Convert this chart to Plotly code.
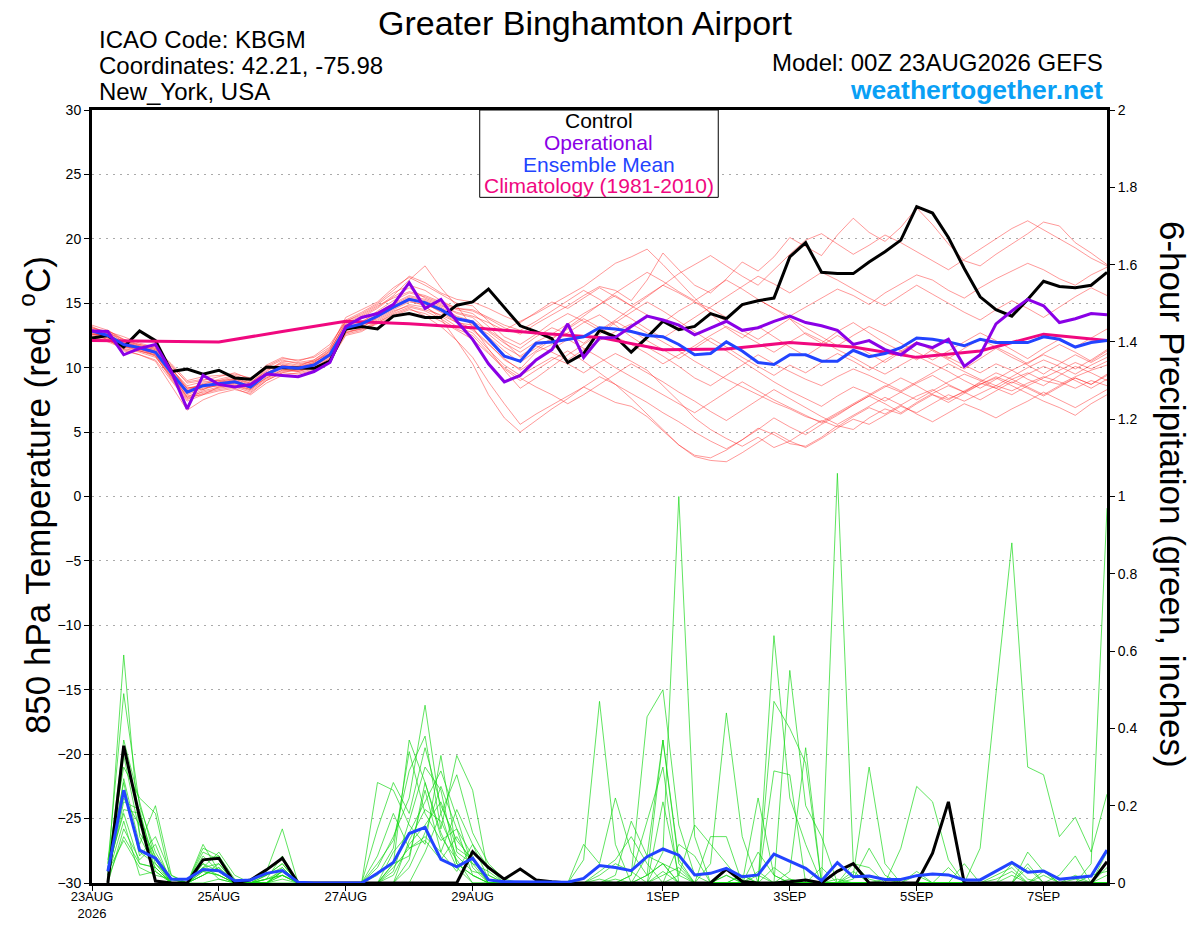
import pandas as pd
import plotly.graph_objects as go

# 6-hourly forecast times, 00Z 23AUG2026 run out to 384 h
times = pd.date_range("2026-08-23 00:00", periods=65, freq="6h")
clim_times = pd.date_range("2026-08-23 00:00", periods=17, freq="D")

tick_dates = ["2026-08-23", "2026-08-25", "2026-08-27", "2026-08-29",
              "2026-09-01", "2026-09-03", "2026-09-05", "2026-09-07"]
tick_text = ["23AUG<br>2026", "25AUG", "27AUG", "29AUG", "1SEP", "3SEP", "5SEP", "7SEP"]

# 850 hPa temperature (C)
control_t = [12.3, 12.5, 11.6, 12.85, 12.1, 9.7, 9.9, 9.5, 9.8, 9.2, 9.1, 10.05, 10.0, 9.95, 9.95, 10.5,
             13.0, 13.2, 13.0, 14.0, 14.2, 13.9, 13.9, 14.85, 15.1, 16.1, 14.7,
             13.25, 12.8, 12.25, 10.4, 11.1, 12.9, 12.4, 11.2, 12.35, 13.6, 12.95, 13.2, 14.2, 13.8, 14.9, 15.2, 15.4, 18.6,
             19.7, 17.4, 17.3, 17.3, 18.2, 19.0, 19.9, 22.5, 22.0, 20.1, 17.7, 15.5, 14.5, 14.0, 15.3, 16.7, 16.3, 16.2, 16.4, 17.4]
oper_t = [12.85, 12.8, 11.0, 11.5, 11.8, 9.7, 6.8, 9.4, 8.7, 8.5, 8.7, 9.5, 9.4, 9.3, 9.7, 10.4,
          13.2, 13.9, 14.2, 14.9, 16.6, 14.6, 15.3, 13.6, 12.2, 10.3, 8.9,
          9.4, 10.6, 11.4, 13.4, 10.8, 12.3, 12.35, 13.2, 14.0, 13.7, 13.3, 12.55, 13.1, 13.6, 12.9, 13.1, 13.6, 14.0,
          13.5, 13.25, 12.9, 11.8, 12.1, 11.4, 11.0, 11.9, 11.55, 12.2, 10.1, 11.0, 13.4, 14.4, 15.3, 14.8, 13.5, 13.8, 14.2, 14.1]
mean_t = [12.85, 12.5, 11.8, 11.55, 11.2, 9.6, 8.1, 8.6, 8.75, 8.9, 8.5, 9.5, 10.05, 9.95, 10.2, 11.0,
          13.1, 13.4, 14.0, 14.7, 15.3, 15.05, 14.5, 13.8, 13.55, 12.2, 10.9,
          10.5, 11.9, 12.0, 12.2, 12.4, 13.1, 13.0, 12.8, 12.5, 12.4, 11.8, 11.0, 11.1, 12.0, 11.3, 10.4, 10.25, 11.0,
          11.0, 10.5, 10.5, 11.35, 10.85, 11.1, 11.55, 12.3, 12.2, 12.0, 11.7, 12.2, 11.95, 11.95, 11.95, 12.4, 12.2, 11.6, 11.95, 12.1]
clim_t = [12.1, 12.05, 12.0, 12.8, 13.6, 13.4, 13.1, 12.7, 12.35, 11.4, 11.45, 11.95, 11.6, 10.8, 11.3, 12.6, 12.1]

members_t = [
    [13.1, 12.8, 12.4, 11.9, 11.6, 10.2, 8.8, 9.0, 9.3, 9.6, 9.1, 10.2, 10.8, 10.5, 10.9, 11.8,
     13.6, 14.2, 14.9, 15.8, 16.4, 16.0, 15.2, 14.6, 14.4, 13.8, 13.1,
     12.6, 13.4, 14.1, 14.8, 15.6, 16.3, 16.0, 15.2, 16.8, 18.9, 17.6, 16.4, 15.8, 16.9, 18.2, 17.5, 18.6, 20.1,
     19.4, 18.7, 20.3, 21.6, 20.5, 19.8, 20.9, 22.4, 21.1, 19.6, 18.3, 17.9, 18.8, 19.6, 20.4, 21.3, 21.0, 19.7, 18.9, 18.0],
    [12.6, 12.2, 11.3, 11.0, 10.6, 9.0, 7.4, 7.9, 8.2, 8.4, 7.9, 8.8, 9.4, 9.6, 9.9, 10.5,
     12.5, 12.8, 13.5, 14.1, 14.6, 14.0, 13.2, 12.1, 10.8, 8.9, 7.2,
     5.6, 6.4, 7.1, 7.8, 8.5, 7.9, 7.3, 7.0, 6.2, 5.1, 4.0, 3.2, 3.0, 3.6, 4.4, 5.3, 4.8, 4.1,
     3.9, 4.6, 5.5, 5.2, 6.1, 6.8, 6.4, 7.2, 7.9, 7.5, 8.2, 8.8, 8.4, 9.1, 9.6, 9.0, 8.7, 9.3, 9.8, 10.2],
    [12.8, 12.9, 12.1, 11.6, 11.3, 9.9, 8.5, 8.3, 8.9, 9.2, 8.8, 9.9, 10.3, 10.1, 10.6, 11.4,
     13.4, 13.9, 14.6, 15.5, 16.2, 15.4, 14.9, 14.2, 13.9, 12.8, 11.9,
     11.2, 12.0, 12.6, 13.4, 14.2, 14.9, 15.6, 14.8, 14.1, 13.5, 14.4, 15.1, 14.6, 13.9, 14.8, 15.3, 14.6, 14.0,
     14.7, 15.4, 16.1, 15.6, 14.9, 15.8, 16.5, 17.2, 16.8, 16.0, 15.4, 16.2, 16.9, 17.5, 18.1, 17.6, 16.9, 16.4, 17.2, 17.8],
    [12.4, 12.0, 11.5, 11.2, 10.8, 9.3, 7.8, 8.1, 8.4, 8.6, 8.2, 9.1, 9.7, 9.8, 10.0, 10.7,
     12.8, 13.0, 13.6, 14.3, 14.9, 14.7, 14.0, 13.2, 12.7, 11.4, 10.2,
     9.4, 10.1, 10.8, 10.3, 9.6, 10.4, 11.1, 10.5, 9.8, 8.6, 7.4, 6.1, 5.2, 4.5, 3.9, 4.6, 3.8, 4.3,
     5.1, 5.9, 5.4, 6.2, 6.9, 6.4, 7.1, 7.8, 8.3, 7.6, 8.1, 8.7, 9.2, 8.6, 8.0, 7.4, 6.9, 6.3, 7.2, 7.9],
    [13.2, 12.6, 11.9, 11.7, 11.4, 10.1, 8.9, 9.1, 9.0, 9.3, 8.9, 9.7, 10.5, 10.4, 10.6, 11.5,
     13.9, 14.5, 15.1, 16.2, 17.0, 16.4, 15.7, 15.0, 14.8, 13.6, 12.4,
     11.8, 12.6, 13.5, 14.2, 13.6, 12.9, 13.7, 14.6, 15.5, 16.4, 15.8, 15.1, 14.3, 13.6, 12.9, 12.2, 13.0, 13.8,
     12.6, 11.9, 12.8, 13.5, 12.7, 11.9, 11.3, 10.6, 11.4, 10.8, 10.2, 9.6, 10.3, 9.8, 9.1, 8.6, 9.4, 10.1, 9.6, 9.0],
    [12.7, 12.3, 11.6, 11.3, 11.0, 9.4, 7.9, 8.4, 8.6, 8.7, 8.3, 9.3, 9.9, 9.7, 10.1, 10.8,
     12.9, 13.3, 13.8, 14.5, 15.1, 14.9, 14.4, 13.6, 13.0, 11.9, 10.6,
     9.9, 11.2, 11.8, 12.7, 13.5, 14.1, 13.3, 12.4, 11.6, 10.9, 10.1, 9.2, 8.6, 9.4, 10.2, 11.0, 10.3, 9.7,
     9.1, 8.6, 9.3, 9.9, 9.4, 8.8, 8.2, 8.9, 9.6, 10.3, 9.7, 9.1, 8.6, 9.3, 10.0, 10.6, 10.1, 9.5, 10.2, 10.8],
    [13.0, 12.4, 11.4, 11.0, 10.5, 8.6, 6.7, 7.5, 8.0, 8.3, 8.0, 9.0, 9.6, 9.9, 10.3, 11.1,
     13.2, 13.6, 14.2, 14.9, 15.5, 15.2, 14.7, 14.0, 13.6, 12.9, 12.1,
     11.5, 12.4, 13.1, 12.6, 11.9, 12.8, 13.6, 12.9, 12.1, 11.4, 10.7, 11.5, 12.3, 11.6, 10.8, 10.1, 9.4, 10.2,
     9.6, 10.4, 11.1, 10.5, 9.8, 10.6, 11.3, 12.0, 11.4, 10.7, 11.5, 12.2, 11.6, 11.0, 10.3, 11.1, 11.8, 11.2, 10.5, 11.3],
    [12.5, 12.7, 12.0, 11.8, 11.5, 10.0, 8.3, 8.7, 9.1, 9.4, 9.0, 10.0, 10.6, 10.3, 10.5, 11.3,
     13.5, 14.0, 14.7, 15.6, 16.8, 17.9, 16.2, 14.8, 13.1, 11.5, 9.8,
     8.4, 9.2, 10.1, 11.0, 11.8, 12.6, 13.5, 14.3, 15.1, 14.4, 13.6, 12.8, 12.0, 11.3, 10.5, 9.7, 8.9, 8.2,
     7.6, 7.0, 7.8, 8.5, 8.0, 7.4, 8.1, 8.8, 9.4, 8.7, 8.1, 8.9, 9.6, 9.1, 8.5, 7.9, 8.6, 9.2, 8.7, 9.4],
    [12.9, 12.1, 11.7, 11.4, 11.1, 9.5, 7.7, 7.9, 8.5, 8.8, 8.4, 9.2, 9.8, 10.0, 10.2, 10.9,
     12.7, 13.1, 13.9, 14.6, 15.2, 14.8, 13.8, 12.1, 10.3, 7.9, 6.1,
     5.0, 5.9, 6.8, 7.6, 8.5, 9.3, 8.7, 8.0, 7.3, 6.5, 5.8, 5.0, 4.3, 3.7, 4.4, 5.2, 6.1, 5.4,
     4.8, 5.6, 6.3, 7.1, 7.8, 7.2, 6.5, 7.3, 8.0, 8.6, 8.1, 7.5, 8.2, 8.9, 8.4, 7.8, 8.5, 9.2, 8.7, 9.5],
    [12.6, 12.5, 11.8, 11.4, 11.2, 9.7, 8.2, 8.8, 8.9, 9.0, 8.6, 9.6, 10.2, 10.0, 10.4, 11.2,
     13.3, 13.8, 14.3, 15.0, 15.6, 15.3, 14.8, 14.3, 14.0, 13.5, 12.9,
     13.6, 14.2, 14.9, 15.6, 16.3, 17.2, 18.1, 18.6, 19.2, 18.0, 16.7, 15.4, 14.2, 13.1, 12.3, 13.2, 12.4, 11.6,
     10.9, 11.7, 12.5, 11.8, 11.1, 10.4, 11.2, 12.0, 11.3, 10.6, 9.9, 10.7, 11.5, 10.8, 10.2, 9.5, 10.3, 11.0, 10.4, 11.1],
    [12.3, 12.1, 11.6, 11.5, 10.9, 9.2, 7.6, 8.0, 8.3, 8.5, 8.1, 9.0, 9.6, 9.5, 9.8, 10.6,
     12.6, 12.9, 13.4, 14.0, 14.5, 14.2, 13.6, 12.9, 12.2, 11.1, 9.9,
     9.0, 9.8, 10.6, 11.3, 10.5, 9.6, 8.7, 7.6, 6.4, 5.2, 4.0, 3.1, 2.8, 2.7, 3.4, 4.2, 5.0, 4.3,
     3.8, 4.5, 5.3, 6.0, 5.6, 6.3, 7.0, 6.5, 7.2, 7.9, 7.4, 8.0, 8.6, 8.2, 8.8, 9.3, 8.9, 8.4, 9.0, 8.6],
    [13.3, 12.9, 12.2, 11.8, 11.5, 10.3, 9.0, 9.3, 9.4, 9.5, 9.2, 10.1, 10.7, 10.6, 10.8, 11.6,
     13.7, 14.3, 15.0, 16.0, 17.1, 16.6, 15.8, 15.3, 15.1, 14.6, 14.0,
     13.5, 14.3, 15.1, 14.6, 15.4, 16.2, 15.5, 14.8, 15.6, 16.4, 17.3, 18.0, 18.7, 17.9, 17.1, 16.4, 17.6, 18.8,
     19.9, 20.4, 19.6, 18.8, 19.5, 20.3, 19.7, 19.0, 18.3, 17.6, 18.4, 19.2, 20.0, 20.8, 21.4, 20.7, 20.0, 19.3, 18.5, 17.9],
    [12.7, 12.6, 11.9, 11.6, 11.3, 9.8, 8.4, 8.6, 8.8, 9.1, 8.7, 9.8, 10.4, 10.2, 10.5, 11.1,
     13.0, 13.5, 14.4, 15.2, 15.8, 15.5, 15.0, 14.5, 14.2, 13.2, 12.0,
     10.8, 11.5, 12.3, 13.0, 13.8, 13.1, 12.4, 11.8, 11.1, 10.3, 11.0, 11.7, 12.5, 13.2, 12.6, 11.9, 11.2, 12.0,
     12.7, 12.1, 11.4, 10.8, 10.1, 9.5, 10.2, 10.9, 10.3, 9.7, 9.0, 8.4, 9.1, 9.8, 10.4, 11.0, 10.5, 9.9, 10.6, 11.4],
    [13.1, 12.7, 12.2, 11.7, 11.4, 9.9, 8.6, 8.9, 9.0, 9.1, 8.8, 9.6, 10.1, 9.9, 10.3, 10.9,
     12.9, 13.2, 13.7, 14.4, 14.8, 14.5, 14.1, 13.5, 13.3, 12.6, 11.6,
     10.9, 11.7, 11.2, 10.6, 11.4, 12.1, 12.8, 13.4, 12.7, 12.0, 11.3, 10.5, 9.8, 9.1, 8.5, 7.9, 7.3, 6.8,
     6.2, 5.8, 6.5, 7.2, 7.9, 8.6, 8.1, 7.5, 8.2, 8.9, 9.5, 9.0, 8.4, 7.9, 8.6, 9.2, 9.8, 10.4, 9.9, 10.5],
    [12.8, 12.3, 11.7, 11.6, 11.2, 9.6, 8.0, 8.5, 8.6, 8.9, 8.5, 9.4, 10.0, 10.1, 10.4, 11.3,
     13.6, 14.1, 14.8, 15.4, 15.9, 15.6, 15.1, 14.6, 14.5, 13.9, 13.3,
     12.9, 13.6, 14.4, 15.2, 16.0, 15.3, 14.5, 13.8, 13.0, 12.3, 13.1, 13.9, 14.7, 15.5, 16.3, 17.1, 16.5, 15.8,
     16.6, 17.4, 16.8, 16.1, 15.4, 14.8, 15.6, 16.4, 15.7, 15.0, 14.3, 13.7, 14.5, 15.2, 14.6, 13.9, 14.7, 15.5, 16.2, 15.6],
    [12.4, 12.2, 11.4, 11.3, 10.9, 9.1, 7.5, 8.2, 8.5, 8.6, 8.3, 9.2, 9.8, 9.7, 10.0, 10.7,
     12.7, 13.0, 13.5, 14.2, 14.7, 14.4, 13.8, 13.0, 12.5, 11.2, 10.0,
     9.2, 8.5, 7.9, 7.2, 7.9, 8.7, 9.5, 10.3, 9.6, 8.9, 8.1, 7.4, 6.6, 5.9, 6.7, 7.5, 8.3, 7.6,
     6.9, 6.2, 5.6, 6.3, 7.0, 7.7, 7.1, 6.4, 5.8, 6.5, 7.2, 6.7, 6.1, 6.8, 7.4, 8.1, 7.5, 6.9, 7.6, 8.3],
    [13.0, 12.8, 12.0, 11.5, 11.1, 9.7, 8.4, 8.7, 8.7, 8.8, 8.4, 9.5, 10.2, 10.0, 10.3, 11.0,
     13.1, 13.5, 14.1, 14.8, 15.4, 15.1, 14.6, 13.9, 13.4, 12.4, 11.3,
     10.4, 11.3, 12.2, 13.1, 14.0, 14.9, 15.8, 16.6, 17.4, 16.7, 15.9, 15.2, 16.0, 16.8, 16.1, 15.3, 14.6, 13.8,
     13.1, 12.4, 11.7, 12.5, 13.2, 12.6, 11.9, 11.2, 10.6, 11.3, 12.0, 12.7, 12.1, 11.4, 10.7, 11.5, 12.2, 11.6, 12.3, 13.0],
    [12.6, 12.4, 11.7, 11.3, 11.0, 9.3, 7.7, 8.3, 8.7, 9.0, 8.6, 9.4, 10.0, 9.8, 10.2, 10.9,
     13.0, 13.4, 14.0, 14.7, 15.3, 15.0, 14.3, 13.5, 12.9, 11.8, 10.7,
     9.8, 10.6, 11.4, 12.2, 11.5, 10.8, 10.0, 9.3, 8.6, 7.9, 7.2, 6.5, 7.3, 8.1, 8.9, 8.2, 7.5, 6.9,
     6.3, 5.7, 6.4, 7.1, 7.8, 8.5, 9.2, 8.6, 7.9, 7.3, 8.0, 8.7, 9.3, 8.8, 9.5, 10.1, 9.6, 9.0, 8.4, 9.1],
]

# 6-hour precipitation (inches), valid 06Z 23AUG onward
control_p = [0.0, 0.355, 0.17, 0.005, 0.0, 0.0, 0.06, 0.064, 0.0, 0.008, 0.034, 0.064, 0.0, 0.0, 0.0, 0.0,
             0.0, 0.0, 0.0, 0.0, 0.0, 0.0, 0.0, 0.081, 0.04, 0.01, 0.036, 0.008, 0.003, 0.0, 0.0, 0.0,
             0.0, 0.0, 0.0, 0.0, 0.0, 0.0, 0.0, 0.036, 0.004, 0.0, 0.0, 0.003, 0.008, 0.0, 0.03, 0.05,
             0.0, 0.0, 0.0, 0.0, 0.077, 0.21, 0.0, 0.0, 0.0, 0.0, 0.0, 0.0, 0.0, 0.0, 0.0, 0.055]
mean_p = [0.03, 0.24, 0.085, 0.064, 0.01, 0.01, 0.035, 0.032, 0.006, 0.008, 0.025, 0.032, 0.002, 0.0, 0.0, 0.0,
          0.0, 0.025, 0.053, 0.128, 0.144, 0.061, 0.042, 0.064, 0.008, 0.003, 0.003, 0.003, 0.002, 0.002, 0.012, 0.045,
          0.04, 0.032, 0.068, 0.088, 0.072, 0.021, 0.025, 0.038, 0.016, 0.021, 0.075, 0.057, 0.038, 0.006, 0.053, 0.016,
          0.018, 0.009, 0.009, 0.019, 0.023, 0.021, 0.008, 0.008, 0.03, 0.053, 0.028, 0.031, 0.01, 0.014, 0.018, 0.085]

members_p = [
    [0.02, 0.59, 0.12, 0.04, 0.0, 0.0, 0.05, 0.03, 0.0, 0.0, 0.01, 0.02, 0.0, 0.0, 0.0, 0.0,
     0.0, 0.04, 0.12, 0.22, 0.46, 0.18, 0.05, 0.02, 0.0, 0.0, 0.0, 0.0, 0.0, 0.0, 0.0, 0.02,
     0.05, 0.03, 0.0, 0.08, 1.0, 0.12, 0.0, 0.02, 0.0, 0.0, 0.04, 0.01, 0.0, 0.0, 0.0, 0.0,
     0.0, 0.0, 0.0, 0.02, 0.0, 0.0, 0.0, 0.0, 0.01, 0.03, 0.0, 0.0, 0.0, 0.01, 0.0, 0.02],
    [0.05, 0.49, 0.2, 0.08, 0.01, 0.0, 0.08, 0.06, 0.0, 0.0, 0.02, 0.05, 0.0, 0.0, 0.0, 0.0,
     0.0, 0.0, 0.05, 0.37, 0.26, 0.12, 0.06, 0.0, 0.0, 0.0, 0.0, 0.0, 0.0, 0.0, 0.06, 0.47,
     0.1, 0.0, 0.02, 0.05, 0.03, 0.0, 0.0, 0.0, 0.02, 0.0, 0.0, 0.0, 0.0, 0.0, 1.06, 0.05,
     0.01, 0.0, 0.0, 0.0, 0.0, 0.0, 0.0, 0.0, 0.0, 0.0, 0.0, 0.0, 0.0, 0.0, 0.0, 0.0],
    [0.03, 0.37, 0.21, 0.06, 0.0, 0.0, 0.04, 0.02, 0.0, 0.0, 0.0, 0.03, 0.0, 0.0, 0.0, 0.0,
     0.0, 0.26, 0.24, 0.15, 0.1, 0.33, 0.08, 0.05, 0.03, 0.0, 0.0, 0.0, 0.0, 0.0, 0.0, 0.0,
     0.0, 0.02, 0.43, 0.5, 0.15, 0.02, 0.0, 0.0, 0.0, 0.0, 0.0, 0.03, 0.35, 0.0, 0.0, 0.02,
     0.3, 0.05, 0.0, 0.0, 0.0, 0.0, 0.0, 0.0, 0.02, 0.04, 0.0, 0.0, 0.0, 0.0, 0.0, 0.0],
    [0.0, 0.27, 0.1, 0.2, 0.02, 0.0, 0.09, 0.07, 0.01, 0.0, 0.03, 0.14, 0.0, 0.0, 0.0, 0.0,
     0.0, 0.14, 0.26, 0.18, 0.35, 0.2, 0.11, 0.06, 0.01, 0.0, 0.0, 0.0, 0.0, 0.0, 0.1, 0.05,
     0.22, 0.08, 0.02, 0.37, 0.06, 0.0, 0.0, 0.0, 0.0, 0.0, 0.64, 0.22, 0.1, 0.0, 0.0, 0.0,
     0.0, 0.0, 0.09, 0.25, 0.21, 0.06, 0.0, 0.09, 0.49, 0.88, 0.3, 0.28, 0.12, 0.17, 0.08, 0.23],
    [0.06, 0.3, 0.22, 0.18, 0.0, 0.0, 0.02, 0.05, 0.0, 0.0, 0.0, 0.01, 0.0, 0.0, 0.0, 0.0,
     0.0, 0.05, 0.11, 0.29, 0.38, 0.14, 0.33, 0.24, 0.02, 0.0, 0.0, 0.0, 0.0, 0.0, 0.0, 0.0,
     0.0, 0.0, 0.0, 0.03, 0.0, 0.0, 0.05, 0.44, 0.12, 0.0, 0.47, 0.4, 0.31, 0.0, 0.01, 0.0,
     0.0, 0.0, 0.0, 0.0, 0.0, 0.0, 0.0, 0.0, 0.0, 0.0, 0.0, 0.02, 0.0, 0.0, 0.05, 0.97],
    [0.01, 0.24, 0.08, 0.05, 0.01, 0.0, 0.03, 0.02, 0.0, 0.0, 0.01, 0.03, 0.0, 0.0, 0.0, 0.0,
     0.0, 0.0, 0.08, 0.13, 0.21, 0.29, 0.17, 0.04, 0.0, 0.0, 0.0, 0.0, 0.0, 0.0, 0.0, 0.0,
     0.02, 0.16, 0.07, 0.37, 0.05, 0.0, 0.0, 0.02, 0.0, 0.0, 0.29, 0.28, 0.0, 0.0, 0.0, 0.03,
     0.0, 0.0, 0.0, 0.0, 0.0, 0.0, 0.0, 0.0, 0.0, 0.0, 0.05, 0.0, 0.0, 0.02, 0.0, 0.0],
    [0.04, 0.18, 0.05, 0.04, 0.0, 0.0, 0.1, 0.03, 0.0, 0.01, 0.02, 0.04, 0.0, 0.0, 0.0, 0.0,
     0.0, 0.0, 0.03, 0.16, 0.3, 0.24, 0.05, 0.02, 0.0, 0.0, 0.0, 0.0, 0.0, 0.0, 0.0, 0.03,
     0.06, 0.12, 0.05, 0.0, 0.0, 0.0, 0.0, 0.0, 0.0, 0.03, 0.0, 0.55, 0.2, 0.12, 0.0, 0.0,
     0.0, 0.0, 0.0, 0.0, 0.0, 0.04, 0.0, 0.0, 0.0, 0.0, 0.0, 0.03, 0.0, 0.0, 0.0, 0.0],
    [0.0, 0.14, 0.06, 0.1, 0.0, 0.0, 0.04, 0.08, 0.02, 0.0, 0.0, 0.02, 0.0, 0.0, 0.0, 0.0,
     0.0, 0.07, 0.18, 0.09, 0.12, 0.08, 0.19, 0.1, 0.01, 0.0, 0.0, 0.0, 0.0, 0.0, 0.0, 0.0,
     0.0, 0.0, 0.07, 0.05, 0.0, 0.0, 0.12, 0.12, 0.0, 0.0, 0.0, 0.0, 0.0, 0.04, 0.0, 0.0,
     0.0, 0.0, 0.0, 0.0, 0.0, 0.0, 0.0, 0.0, 0.0, 0.0, 0.0, 0.0, 0.02, 0.07, 0.0, 0.0],
    [0.02, 0.21, 0.19, 0.03, 0.0, 0.0, 0.02, 0.04, 0.0, 0.0, 0.02, 0.05, 0.0, 0.0, 0.0, 0.0,
     0.0, 0.0, 0.0, 0.06, 0.26, 0.13, 0.04, 0.0, 0.0, 0.0, 0.0, 0.0, 0.0, 0.0, 0.0, 0.01,
     0.0, 0.02, 0.16, 0.3, 0.0, 0.0, 0.0, 0.0, 0.0, 0.08, 0.02, 0.0, 0.0, 0.0, 0.0, 0.01,
     0.09, 0.02, 0.0, 0.0, 0.0, 0.0, 0.05, 0.0, 0.0, 0.0, 0.08, 0.03, 0.0, 0.0, 0.0, 0.04],
    [0.03, 0.11, 0.04, 0.02, 0.01, 0.0, 0.0, 0.01, 0.0, 0.0, 0.0, 0.0, 0.0, 0.0, 0.0, 0.0,
     0.0, 0.0, 0.02, 0.1, 0.15, 0.21, 0.09, 0.06, 0.0, 0.0, 0.0, 0.0, 0.0, 0.0, 0.0, 0.0,
     0.0, 0.0, 0.0, 0.0, 0.02, 0.15, 0.1, 0.05, 0.0, 0.0, 0.0, 0.0, 0.0, 0.0, 0.0, 0.0,
     0.0, 0.01, 0.0, 0.0, 0.0, 0.0, 0.0, 0.0, 0.0, 0.02, 0.0, 0.0, 0.0, 0.0, 0.0, 0.0],
    [0.05, 0.26, 0.07, 0.12, 0.02, 0.0, 0.06, 0.07, 0.0, 0.0, 0.01, 0.07, 0.0, 0.0, 0.0, 0.0,
     0.0, 0.02, 0.09, 0.34, 0.18, 0.11, 0.14, 0.02, 0.0, 0.0, 0.0, 0.0, 0.0, 0.0, 0.0, 0.0,
     0.01, 0.0, 0.0, 0.21, 0.02, 0.0, 0.0, 0.0, 0.0, 0.22, 0.02, 0.0, 0.0, 0.0, 0.0, 0.0,
     0.0, 0.0, 0.0, 0.03, 0.0, 0.0, 0.0, 0.0, 0.0, 0.0, 0.0, 0.0, 0.0, 0.0, 0.0, 0.0],
    [0.0, 0.33, 0.13, 0.06, 0.0, 0.0, 0.03, 0.02, 0.0, 0.0, 0.0, 0.02, 0.0, 0.0, 0.0, 0.0,
     0.0, 0.0, 0.0, 0.04, 0.13, 0.25, 0.14, 0.07, 0.0, 0.0, 0.0, 0.0, 0.0, 0.0, 0.0, 0.0,
     0.0, 0.0, 0.0, 0.0, 0.0, 0.0, 0.0, 0.0, 0.0, 0.0, 0.0, 0.0, 0.0, 0.0, 0.0, 0.0,
     0.0, 0.0, 0.0, 0.0, 0.0, 0.0, 0.0, 0.0, 0.0, 0.0, 0.0, 0.0, 0.0, 0.0, 0.0, 0.08],
    [0.02, 0.16, 0.02, 0.03, 0.0, 0.0, 0.05, 0.01, 0.0, 0.0, 0.0, 0.03, 0.0, 0.0, 0.0, 0.0,
     0.0, 0.0, 0.05, 0.07, 0.24, 0.08, 0.03, 0.1, 0.04, 0.0, 0.0, 0.0, 0.0, 0.0, 0.0, 0.0,
     0.0, 0.0, 0.0, 0.02, 0.04, 0.0, 0.0, 0.0, 0.0, 0.0, 0.0, 0.0, 0.0, 0.0, 0.0, 0.0,
     0.0, 0.0, 0.0, 0.0, 0.0, 0.0, 0.0, 0.0, 0.0, 0.05, 0.01, 0.0, 0.0, 0.0, 0.02, 0.03],
    [0.04, 0.22, 0.15, 0.07, 0.01, 0.0, 0.04, 0.05, 0.0, 0.0, 0.01, 0.02, 0.0, 0.0, 0.0, 0.0,
     0.0, 0.0, 0.0, 0.11, 0.19, 0.16, 0.07, 0.03, 0.02, 0.0, 0.0, 0.0, 0.0, 0.0, 0.0, 0.0,
     0.0, 0.0, 0.0, 0.0, 0.1, 0.07, 0.0, 0.0, 0.02, 0.0, 0.0, 0.0, 0.0, 0.0, 0.0, 0.05,
     0.04, 0.0, 0.0, 0.0, 0.0, 0.0, 0.0, 0.0, 0.0, 0.0, 0.04, 0.0, 0.0, 0.0, 0.0, 0.0],
    [0.01, 0.12, 0.05, 0.04, 0.0, 0.0, 0.02, 0.04, 0.0, 0.0, 0.0, 0.04, 0.0, 0.0, 0.0, 0.0,
     0.0, 0.0, 0.04, 0.09, 0.11, 0.06, 0.12, 0.05, 0.0, 0.0, 0.0, 0.0, 0.0, 0.0, 0.0, 0.0,
     0.0, 0.0, 0.02, 0.05, 0.0, 0.0, 0.0, 0.0, 0.0, 0.0, 0.0, 0.01, 0.0, 0.0, 0.0, 0.0,
     0.0, 0.0, 0.0, 0.0, 0.0, 0.0, 0.0, 0.0, 0.0, 0.0, 0.0, 0.0, 0.0, 0.0, 0.0, 0.0],
    [0.03, 0.19, 0.18, 0.05, 0.0, 0.0, 0.07, 0.03, 0.0, 0.0, 0.0, 0.03, 0.0, 0.0, 0.0, 0.0,
     0.0, 0.0, 0.0, 0.0, 0.08, 0.18, 0.28, 0.13, 0.05, 0.01, 0.0, 0.0, 0.0, 0.0, 0.0, 0.0,
     0.0, 0.0, 0.0, 0.0, 0.0, 0.0, 0.0, 0.0, 0.0, 0.02, 0.0, 0.0, 0.0, 0.0, 0.0, 0.0,
     0.0, 0.0, 0.0, 0.0, 0.0, 0.0, 0.0, 0.0, 0.0, 0.0, 0.0, 0.0, 0.0, 0.0, 0.0, 0.0],
]

FONT = "Liberation Sans, Arial, sans-serif"

fig = go.Figure()

for m in members_t:
    fig.add_trace(go.Scatter(x=times, y=m, mode="lines",
                             line=dict(color="rgba(255,40,40,0.6)", width=0.8), hoverinfo="skip"))
for m in members_p:
    fig.add_trace(go.Scatter(x=times[1:], y=m, mode="lines", yaxis="y2",
                             line=dict(color="rgba(20,215,20,0.85)", width=0.8), hoverinfo="skip"))

fig.add_trace(go.Scatter(x=times[1:], y=control_p, mode="lines", yaxis="y2",
                         line=dict(color="black", width=3)))
fig.add_trace(go.Scatter(x=times[1:], y=mean_p, mode="lines", yaxis="y2",
                         line=dict(color="#2244ff", width=3)))
fig.add_trace(go.Scatter(x=times, y=control_t, mode="lines", line=dict(color="black", width=3)))
fig.add_trace(go.Scatter(x=clim_times, y=clim_t, mode="lines", line=dict(color="#f0087f", width=3)))
fig.add_trace(go.Scatter(x=times, y=mean_t, mode="lines", line=dict(color="#2244ff", width=3)))
fig.add_trace(go.Scatter(x=times, y=oper_t, mode="lines", line=dict(color="#8a00e6", width=3)))

# the page body adds an 8px offset, so the figure is a little smaller than the window
fig.update_layout(
    width=1184, height=911,
    margin=dict(l=84, r=85, t=102, b=36, autoexpand=False),
    paper_bgcolor="white", plot_bgcolor="white",
    showlegend=False,
    font=dict(family=FONT, color="black"),
    xaxis=dict(
        type="date", range=[times[0], times[-1]], automargin=False,
        tickmode="array", tickvals=tick_dates, ticktext=tick_text,
        ticks="outside", ticklen=5, tickwidth=1, tickcolor="black",
        tickfont=dict(size=13), ticklabelstandoff=-6,
        showgrid=False, zeroline=False,
        showline=True, linecolor="black", linewidth=3, mirror=True,
    ),
    yaxis=dict(
        range=[-30, 30], tickmode="linear", tick0=-30, dtick=5, automargin=False,
        ticks="outside", ticklen=5, tickcolor="black",
        tickfont=dict(size=14),
        showgrid=True, gridcolor="#aaaaaa", gridwidth=1, griddash="2px,5px",
        zeroline=False, showline=True, linecolor="black", linewidth=3,
    ),
    yaxis2=dict(
        range=[0, 2], overlaying="y", side="right", automargin=False,
        tickmode="linear", tick0=0, dtick=0.2,
        ticks="outside", ticklen=5, tickcolor="black",
        tickfont=dict(size=14),
        showgrid=False, zeroline=False,
        showline=True, linecolor="black", linewidth=3,
    ),
)

# legend box at the top of the plot
fig.add_shape(type="rect", xref="paper", yref="paper", x0=0.382, x1=0.617, y0=0.887, y1=1.0,
              line=dict(color="black", width=1), fillcolor="white", layer="above")
legend_items = [("Control", "black"), ("Operational", "#8a00e6"),
                ("Ensemble Mean", "#2244ff"), ("Climatology (1981-2010)", "#f0087f")]
for k, (txt, col) in enumerate(legend_items):
    fig.add_annotation(xref="paper", yref="paper", x=0.4995, y=0.986 - k * 0.0280,
                       text=txt, showarrow=False, font=dict(size=21, color=col),
                       xanchor="center", yanchor="middle")

# header text
fig.add_annotation(xref="paper", yref="paper", x=0.486, y=1.1126, text="Greater Binghamton Airport",
                   showarrow=False, font=dict(size=34), xanchor="center", yanchor="middle")
for k, txt in enumerate(["ICAO Code: KBGM", "Coordinates: 42.21, -75.98", "New_York, USA"]):
    fig.add_annotation(xref="paper", yref="paper", x=0.005, y=1.0906 - k * 0.0336, text=txt,
                       showarrow=False, font=dict(size=24), xanchor="left", yanchor="middle")
fig.add_annotation(xref="paper", yref="paper", x=0.998, y=1.0620, text="Model: 00Z 23AUG2026 GEFS",
                   showarrow=False, font=dict(size=24), xanchor="right", yanchor="middle")
fig.add_annotation(xref="paper", yref="paper", x=0.998, y=1.0260, text="<b>weathertogether.net</b>",
                   showarrow=False, font=dict(size=26.5, color="#0aa0f5"), xanchor="right", yanchor="middle")

# axis titles
fig.add_annotation(xref="paper", yref="paper", x=-0.056, y=0.502,
                   text="850 hPa Temperature (red, <sup>o</sup>C)", textangle=-90,
                   showarrow=False, font=dict(size=35), xanchor="center", yanchor="middle")
fig.add_annotation(xref="paper", yref="paper", x=1.064, y=0.502,
                   text="6-hour Precipitation (green, inches)", textangle=90,
                   showarrow=False, font=dict(size=35), xanchor="center", yanchor="middle")

fig.write_html("out.html")
